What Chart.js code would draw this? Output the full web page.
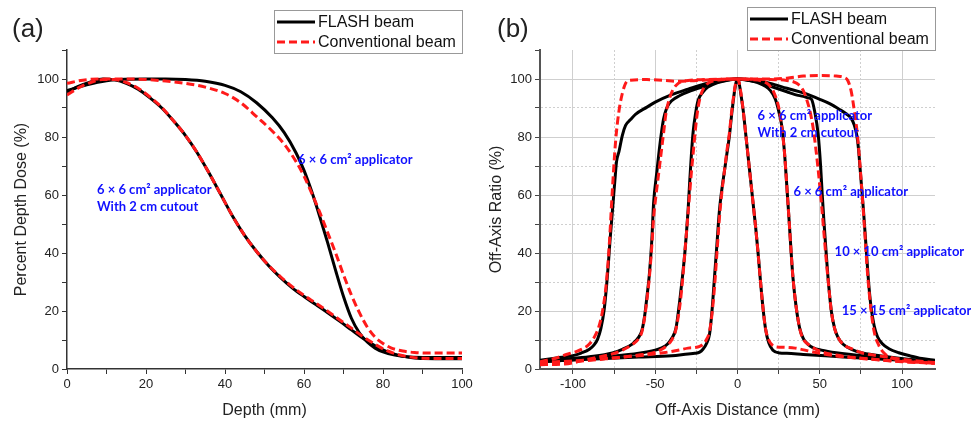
<!DOCTYPE html>
<html>
<head>
<meta charset="utf-8">
<script src="https://cdn.jsdelivr.net/npm/chart.js@4.4.0/dist/chart.umd.min.js"></script>
<style>
  html, body { margin: 0; padding: 0; background: #fff; }
  #wrap { position: relative; width: 971px; height: 422px; }
  .panel { position: absolute; top: 0; height: 422px; }
  #pa { left: 0; width: 485px; }
  #pb { left: 485px; width: 486px; }
</style>
</head>
<body>
<div id="wrap">
  <div class="panel" id="pa"><canvas id="chartA"></canvas></div>
  <div class="panel" id="pb"><canvas id="chartB"></canvas></div>
</div>
<script>
// ---- (a) percent depth dose, depth in mm ----
const pddDepthFlash6 = [0, 5, 10, 15, 20, 25, 30, 35, 40, 44, 48, 52, 55, 58, 60, 62, 64, 66, 68, 70, 72, 74, 76, 78, 80, 83, 86, 90, 100]
const pddFlash6      = [96, 98, 99.4, 99.9, 100, 100, 99.8, 99.2, 97.8, 95.6, 91.8, 86.6, 81.5, 74.5, 68.5, 61, 52.5, 43.5, 34, 25, 17.5, 12.5, 9.3, 7.2, 5.9, 4.8, 4.2, 4, 4]

const pddDepthConv6 = [0, 4, 8, 15, 20, 25, 30, 35, 40, 44, 48, 52, 55, 58, 60, 62, 64, 66, 68, 70, 72, 74, 76, 78, 80, 82, 85, 88, 92, 100]
const pddConv6      = [98.5, 99.6, 100, 100, 99.8, 99.3, 98.5, 97.2, 95, 91.8, 87, 82, 77.5, 71.5, 66.5, 60.5, 54, 47, 40, 32.5, 25.5, 19.5, 14.5, 11, 8.8, 7.3, 6.2, 5.7, 5.5, 5.5]

const pddDepthCut = [0, 3, 6, 9, 12, 15, 18, 21, 24, 27, 30, 33, 36, 39, 42, 45, 48, 51, 54, 57, 60, 63, 66, 69, 72, 75, 78, 81, 84, 87, 90, 100]
const pddFlashCut = [95.5, 97.5, 99, 100, 99.7, 98.5, 96.5, 93.5, 90, 85.5, 80.5, 74.5, 67.5, 60, 52.5, 46, 40.5, 35.7, 31.6, 28, 25, 22.2, 19.4, 16.5, 13.5, 10.5, 8, 6, 4.7, 4, 3.6, 3.5]
const pddConvCut  = [94.5, 97, 98.8, 99.8, 99.8, 98.8, 96.8, 93.8, 90.2, 85.5, 80.5, 74.5, 67.5, 60, 52.5, 46, 40.5, 35.8, 31.9, 28.4, 25.4, 22.7, 19.9, 17, 14.1, 11.1, 8.5, 6.3, 4.9, 4.1, 3.7, 3.6]

// ---- (b) off-axis profiles, distance in mm ----
const oarXFlash15 = [-120, -110, -100, -95, -90, -87, -85, -83, -81, -79.5, -78.5, -77.5, -76.5, -75.5, -74.5, -73.5, -72, -70, -68, -65, -62, -55, -50, -40, -30, -20, -10, 0, 10, 20, 30, 40, 50, 56, 62, 66, 69, 71, 72.5, 73.5, 74.5, 75.5, 76.5, 77.5, 78.5, 79.5, 81, 83, 85, 88, 92, 98, 105, 112, 120]
const oarFlash15  = [3, 3.8, 4.6, 5.5, 6.8, 8.4, 10.3, 14, 20.5, 29, 36, 44, 51, 58, 65, 71.5, 75, 80.5, 84, 86, 87.8, 90.3, 92, 94.6, 96.5, 98.3, 99.5, 100, 99.7, 98.5, 96.8, 95.2, 93, 91.5, 89.5, 88, 86.5, 84, 80.5, 76, 69, 62, 55, 47, 39, 31, 22, 15, 11.2, 8.7, 7, 5.6, 4.5, 3.6, 3]

const oarXConv15 = [-120, -110, -104, -98, -93, -90, -87, -84, -82, -80, -78, -76, -74, -72, -70, -68, -65, -55, -45, -35, -25, -15, -5, 0, 10, 20, 30, 40, 50, 60, 65, 67, 69, 71, 73, 75, 77, 79, 81, 83, 86, 89, 93, 100, 110, 120]
const oarConv15  = [2.5, 3.8, 5, 6, 7.3, 8.6, 11, 15, 20, 28, 42, 62, 79, 89, 95, 98.5, 99.6, 99.8, 99.5, 99.2, 99.5, 99.8, 100, 100, 100, 100, 100.3, 101, 101.2, 101, 100.5, 99.5, 96, 89, 80, 66, 50, 33, 21, 13, 8, 5.5, 4, 2.8, 2.3, 2]

const oarXFlash10 = [-120, -105, -90, -76, -70, -64, -60, -58, -56.5, -55, -53.5, -52, -51, -49, -47, -45, -43, -40, -35, -30, -20, -10, 0, 10, 20, 30, 35, 40, 43, 45, 47, 49, 50.5, 51.5, 52.5, 54, 55, 57, 59, 61, 64, 70, 76, 90, 105, 120]
const oarFlash10  = [2.7, 3.4, 4.2, 5.5, 6.8, 8.6, 11, 13.5, 18, 25, 33, 45, 57, 68, 78, 86, 90, 92.5, 94.3, 95.6, 97.5, 99.2, 100, 99.2, 97.5, 95.6, 94.6, 94, 93.5, 93, 88.5, 81, 70, 60, 51, 39, 31.5, 20, 14, 11, 8.6, 6.6, 5.5, 4.3, 3.3, 2.5]

const oarXConv10 = [-120, -105, -90, -76, -70, -64, -60, -58, -56.5, -55, -53.5, -52, -51, -49.5, -48, -46.5, -45, -43.5, -41.5, -39.5, -36, -30, -20, 0, 20, 30, 36, 40, 42, 44, 46, 48, 49.5, 51, 52.5, 54, 55, 57, 59, 61, 64, 70, 76, 90, 105, 120]
const oarConv10  = [1.5, 1.7, 3.5, 5.2, 6.5, 8.4, 10.5, 13, 17.5, 24, 32, 43, 52, 60, 67, 74, 81, 88, 93, 96, 98.5, 99.5, 99.8, 100, 99.8, 99.5, 98.5, 96, 93, 89, 83, 74, 66, 57, 47, 37, 31, 20, 14, 11, 8.6, 6.8, 5.5, 4.2, 3, 2.2]

const oarXFlash6 = [-120, -100, -80, -60, -50, -46, -42.5, -40, -37.4, -35, -33.5, -32, -31, -30, -29, -28, -27, -25.5, -24, -21, -18, -12, -6, 0, 6, 12, 20, 23, 25, 27, 28.5, 29.5, 30.5, 31.5, 32.5, 33.7, 35.5, 37.8, 40, 42.7, 46, 51, 60, 80, 100, 120]
const oarFlash6  = [2.4, 3.2, 4.2, 5.4, 6.5, 7.3, 8.6, 10.5, 14, 24, 31.5, 40, 47, 55, 65, 74, 81.5, 88, 92.5, 95.5, 97.2, 98.8, 99.6, 100, 99.6, 98.8, 96, 93, 89, 83.5, 75, 67, 58.5, 50, 41, 31.5, 22, 14, 10.5, 8.6, 7.3, 6.5, 5.6, 4.3, 3.3, 2.5]

const oarXConv6 = [-120, -100, -80, -60, -50, -46, -42.5, -40, -37.5, -35, -33.5, -32, -31, -30, -29, -28, -27, -25.5, -24, -22, -19, -15, -8, 0, 8, 15, 19, 22, 24, 25.5, 27, 28.5, 29.5, 30.5, 31.5, 32.5, 33.7, 35.5, 38, 40, 43, 47, 52, 60, 80, 100, 120]
const oarConv6  = [1.8, 2.5, 3.5, 4.8, 5.8, 6.8, 8.3, 10, 13.5, 22, 30, 40, 47, 54, 61, 68, 74, 83, 90, 95, 98, 99.3, 99.8, 100, 99.8, 99.3, 98, 95.5, 92.5, 89, 83, 75, 67, 58.5, 50, 41, 31.5, 22, 13.5, 10.3, 8.5, 7, 5.8, 4.8, 3.5, 2.5, 2]

const oarXFlashCut = [-120, -100, -80, -60, -40, -30, -26, -23, -21, -19, -17, -15.5, -14, -12.5, -11, -9.5, -8, -6.5, -5, -3.5, -2, -1, 0, 1, 2, 3.5, 5, 6.5, 8, 9.5, 11, 12.5, 14, 15.5, 17, 19, 21.5, 25.6, 30, 40, 60, 80, 100, 120]
const oarFlashCut  = [2.6, 3.1, 3.6, 4.1, 4.6, 5.2, 5.4, 5.8, 6.8, 8.6, 12, 20, 31.5, 43, 54.5, 62, 68, 74, 80, 88, 95, 98.5, 100, 98.5, 95, 89, 81, 73, 65, 57, 49, 40, 30, 21, 14, 9, 6.5, 5.5, 5.4, 5, 4.3, 3.6, 3, 2.5]

const oarXConvCut = [-120, -100, -80, -60, -45, -35, -30, -26, -23, -21, -19, -17, -15.5, -14, -12.5, -11, -9.5, -8, -6.5, -5, -3.5, -2, -1, 0, 1, 2, 3.5, 5, 6.5, 8, 9.5, 11, 12.5, 14, 15.5, 17, 19, 21, 24, 28, 35, 45, 60, 80, 100, 120]
const oarConvCut  = [2.2, 2.8, 3.6, 4.6, 5.6, 6.6, 7.2, 7.4, 7.8, 8.5, 10, 13, 19, 28, 40, 52, 61, 68, 75, 81, 89, 95.5, 98.8, 100, 98.8, 95.5, 89, 81, 73, 65, 57, 49, 40, 30, 21, 14, 10, 8.3, 7.6, 7.5, 7.2, 6, 4.5, 3.4, 2.6, 2]

const seriesNames = ['FLASH beam', 'Conventional beam']

Chart.defaults.font.family = '"Liberation Sans", Arial, sans-serif'
Chart.defaults.color = '#222'

const BLACK = '#000'
const RED = '#ff1a1a'
const DASH = [8, 4]

function xy(xs, ys){
    return xs.map(function (x, i){ return {x: x, y: ys[i]} })
}

function flash(xs, ys){
    return {label: seriesNames[0], data: xy(xs, ys), borderColor: BLACK, borderWidth: 3,
            pointRadius: 0, cubicInterpolationMode: 'monotone', fill: false}
}
function conv(xs, ys){
    return {label: seriesNames[1], data: xy(xs, ys), borderColor: RED, borderWidth: 3,
            borderDash: DASH, pointRadius: 0, cubicInterpolationMode: 'monotone', fill: false}
}

// legend box, panel letter and blue notes, drawn on top of the chart
function decorations(letter, legendTop, notes){
    return {
        id: 'deco' + letter,
        afterDraw(chart){
            const ctx = chart.ctx
            const area = chart.chartArea
            ctx.save()
            // panel letter
            ctx.fillStyle = '#222'
            ctx.font = '26px "Liberation Sans", Arial, sans-serif'
            ctx.textBaseline = 'alphabetic'
            ctx.fillText('(' + letter + ')', 12, 37)

            // legend
            const w = 188, h = 43
            const left = area.right - w
            ctx.fillStyle = '#fff'
            ctx.fillRect(left, legendTop, w, h)
            ctx.strokeStyle = '#999'
            ctx.lineWidth = 1
            ctx.strokeRect(left + 0.5, legendTop + 0.5, w, h)
            const rows = [legendTop + 12, legendTop + 32]
            ctx.lineWidth = 3
            ctx.strokeStyle = BLACK
            ctx.beginPath(); ctx.moveTo(left + 3, rows[0]); ctx.lineTo(left + 41, rows[0]); ctx.stroke()
            ctx.strokeStyle = RED
            ctx.setLineDash(DASH)
            ctx.beginPath(); ctx.moveTo(left + 3, rows[1]); ctx.lineTo(left + 41, rows[1]); ctx.stroke()
            ctx.setLineDash([])
            ctx.fillStyle = '#111'
            ctx.font = '16px "Liberation Sans", Arial, sans-serif'
            ctx.textBaseline = 'middle'
            ctx.fillText(seriesNames[0], left + 44, rows[0] + 1)
            ctx.fillText(seriesNames[1], left + 44, rows[1] + 1)

            // blue notes at data positions
            const xs = chart.scales.x, ys = chart.scales.y
            ctx.fillStyle = '#1010ff'
            ctx.font = 'bold 13px Lato, "Open Sans", sans-serif'
            notes.forEach(function (n){
                ctx.fillText(n[0], xs.getPixelForValue(n[1]), ys.getPixelForValue(n[2]))
            })
            ctx.restore()
        }
    }
}

const tickFont = {size: 13}
const titleFont = {size: 16}

function yLabels(v){ return (v % 20 === 0 && v <= 100) ? v : '' }

// ---------- chart (a) ----------
new Chart(document.getElementById('chartA'), {
    type: 'line',
    data: {datasets: [
        conv(pddDepthConv6, pddConv6),
        conv(pddDepthCut, pddConvCut),
        flash(pddDepthFlash6, pddFlash6),
        flash(pddDepthCut, pddFlashCut)
    ]},
    options: {
        responsive: true, maintainAspectRatio: false, animation: false,
        layout: {padding: {left: 0, right: 23, top: 50, bottom: 0}},
        plugins: {legend: {display: false}, tooltip: {enabled: false}},
        scales: {
            x: {
                type: 'linear', min: 0, max: 100,
                ticks: {stepSize: 10, autoSkip: false, maxRotation: 0, font: tickFont, padding: 3,
                        callback: v => (v % 20 === 0) ? v : ''},
                grid: {drawOnChartArea: false, tickLength: 5, tickColor: '#333'},
                border: {color: '#333', width: 1.5},
                title: {display: true, text: 'Depth (mm)', font: titleFont, padding: 2},
                afterFit: s => { s.height = 53 }
            },
            y: {
                min: 0, max: 110,
                ticks: {stepSize: 10, autoSkip: false, font: tickFont, padding: 3, callback: yLabels},
                grid: {drawOnChartArea: false, tickLength: 5, tickColor: '#333'},
                border: {color: '#333', width: 1.5},
                title: {display: true, text: 'Percent Depth Dose (%)', font: titleFont, padding: 12},
                afterFit: s => { s.width = 67 }
            }
        }
    },
    plugins: [decorations('a', 10, [
        ['6 × 6 cm² applicator', 58.5, 72],
        ['6 × 6 cm² applicator', 7.6, 61.7],
        ['With 2 cm cutout', 7.6, 55.9]
    ])]
})

// ---------- chart (b) ----------
new Chart(document.getElementById('chartB'), {
    type: 'line',
    data: {datasets: [
        conv(oarXConv15, oarConv15),
        conv(oarXConv10, oarConv10),
        conv(oarXConv6, oarConv6),
        conv(oarXConvCut, oarConvCut),
        flash(oarXFlash15, oarFlash15),
        flash(oarXFlash10, oarFlash10),
        flash(oarXFlash6, oarFlash6),
        flash(oarXFlashCut, oarFlashCut)
    ]},
    options: {
        responsive: true, maintainAspectRatio: false, animation: false,
        layout: {padding: {left: 0, right: 36, top: 50, bottom: 0}},
        plugins: {legend: {display: false}, tooltip: {enabled: false}},
        scales: {
            x: {
                type: 'linear', min: -120, max: 120,
                ticks: {stepSize: 25, includeBounds: false, autoSkip: false, maxRotation: 0, font: tickFont, padding: 3,
                        callback: v => (v % 50 === 0) ? v : ''},
                grid: {color: '#cfcfcf', tickLength: 5, tickColor: '#444'},
                border: {color: '#555', width: 2,
                         dash: c => (c.tick && c.tick.value % 50 !== 0) ? [2, 2] : []},
                title: {display: true, text: 'Off-Axis Distance (mm)', font: titleFont, padding: 2},
                afterFit: s => { s.height = 53 }
            },
            y: {
                min: 0, max: 110,
                ticks: {stepSize: 10, autoSkip: false, font: tickFont, padding: 3, callback: yLabels},
                grid: {color: c => (c.tick && c.tick.value > 100) ? 'rgba(0,0,0,0)' : '#cfcfcf',
                       tickLength: 5, tickColor: '#444'},
                border: {color: '#555', width: 2,
                         dash: c => (c.tick && c.tick.value % 20 !== 0) ? [2, 2] : []},
                title: {display: true, text: 'Off-Axis Ratio (%)', font: titleFont, padding: 2},
                afterFit: s => { s.width = 55 }
            }
        }
    },
    plugins: [decorations('b', 7, [
        ['6 × 6 cm² applicator', 12.2, 87.2],
        ['With 2 cm cutout', 12.2, 81.4],
        ['6 × 6 cm² applicator', 34, 61],
        ['10 × 10 cm² applicator', 59, 40.3],
        ['15 × 15 cm² applicator', 63.3, 20]
    ])]
})
</script>
</body>
</html>
